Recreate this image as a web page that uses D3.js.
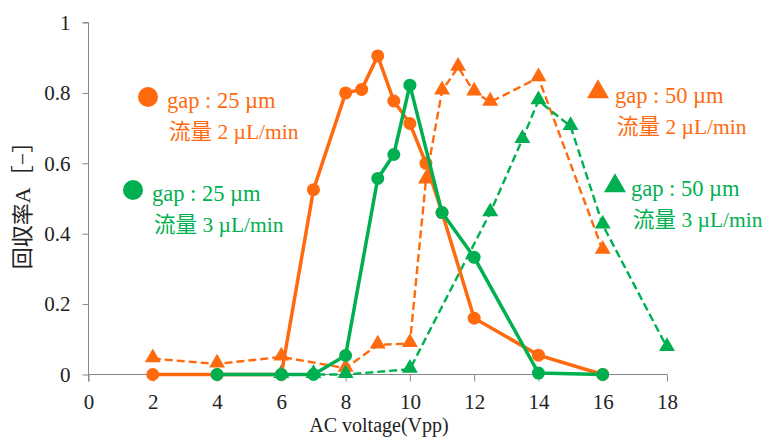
<!DOCTYPE html>
<html>
<head>
<meta charset="utf-8">
<script src="https://cdn.jsdelivr.net/npm/d3@7"></script>
<style>
  body { margin: 0; background: #fff; }
  text { font-family: "Liberation Serif", "Noto Sans CJK JP", serif; }
</style>
</head>
<body>
<div id="chart"></div>
<script>
// tick labels
const xTicks = [0, 2, 4, 6, 8, 10, 12, 14, 16, 18];
const yTicks = [0, 0.2, 0.4, 0.6, 0.8, 1];

// gap 25 um, 2 uL/min (orange circles, solid)
const orangeCircX = [2, 4, 6, 7, 8, 8.5, 9, 9.5, 10, 10.5, 11, 12, 14, 16];
const orangeCircY = [0, 0, 0, 0.525, 0.80, 0.81, 0.905, 0.777, 0.713, 0.60, 0.46, 0.16, 0.055, 0];

// gap 25 um, 3 uL/min (green circles, solid)
const greenCircX = [4, 6, 7, 8, 9, 9.5, 10, 11, 12, 14, 16];
const greenCircY = [0, 0, 0, 0.054, 0.557, 0.625, 0.822, 0.46, 0.333, 0.004, 0];

// gap 50 um, 2 uL/min (orange triangles, dashed)
const orangeTriX = [2, 4, 6, 8, 9, 10, 10.5, 11, 11.5, 12, 12.5, 14, 16];
const orangeTriY = [0.045, 0.03, 0.05, 0.018, 0.084, 0.088, 0.553, 0.806, 0.873, 0.803, 0.774, 0.843, 0.353];

// gap 50 um, 3 uL/min (green triangles, dashed)
const greenTriX = [6, 7, 8, 10, 12.5, 13.5, 14, 15, 16, 18];
const greenTriY = [0, 0, 0, 0.015, 0.46, 0.668, 0.778, 0.705, 0.425, 0.077];

const ORANGE = "#ff6a0f", GREEN = "#00b050";

const width = 775, height = 440;
const svg = d3.select("#chart").append("svg")
    .attr("width", width).attr("height", height);

const x = d3.scaleLinear().domain([0, 18]).range([88.5, 667]);
const y = d3.scaleLinear().domain([0, 1]).range([374.5, 22.5]);

// axes
svg.append("g")
   .attr("transform", `translate(0,${y(0)})`)
   .call(d3.axisBottom(x).tickValues(xTicks).tickSize(7).tickPadding(13).tickFormat(d3.format("d")))
   .call(g => g.select(".domain").attr("stroke", "#888").attr("d", `M${x(0)},7V0H${x(18)}`))
   .call(g => g.selectAll(".tick line").attr("stroke", "#888"))
   .call(g => g.selectAll("text").attr("font-size", 21).attr("fill", "#222")
                .attr("font-family", "Liberation Serif"));

svg.append("g")
   .attr("transform", `translate(${x(0)},0)`)
   .call(d3.axisLeft(y).tickValues(yTicks).tickSize(6).tickPadding(12).tickFormat(d => d === 0 || d === 1 ? d : d3.format(".1f")(d)))
   .call(g => g.select(".domain").attr("stroke", "#888").attr("d", `M-6,${y(1)}H0V${y(0)}`))
   .call(g => g.selectAll(".tick line").attr("stroke", "#888"))
   .call(g => g.selectAll("text").attr("font-size", 21).attr("fill", "#222")
                .attr("font-family", "Liberation Serif"));

// axis titles
svg.append("text")
   .attr("x", 379).attr("y", 432)
   .attr("text-anchor", "middle")
   .attr("font-size", 20).attr("fill", "#222")
   .text("AC voltage(Vpp)");

svg.append("text")
   .attr("transform", "translate(30,200) rotate(-90)")
   .attr("text-anchor", "middle")
   .attr("font-size", 22).attr("fill", "#222")
   .text("回収率A［−］");

const zip = (xs, ys) => xs.map((v, i) => [v, ys[i]]);
const line = d3.line().x(d => x(d[0])).y(d => y(d[1]));
const tri = d3.symbol().type(d3.symbolTriangle).size(110);

function drawSeries(pts, color, dashed, marker) {
    svg.append("path")
       .datum(pts)
       .attr("fill", "none")
       .attr("stroke", color)
       .attr("stroke-width", dashed ? 2.4 : 3.5)
       .attr("stroke-dasharray", dashed ? "8,4" : null)
       .attr("d", line);
    if (marker === "circle") {
        svg.selectAll(null).data(pts).enter().append("circle")
           .attr("cx", d => x(d[0])).attr("cy", d => y(d[1]))
           .attr("r", 6.5).attr("fill", color);
    } else {
        svg.selectAll(null).data(pts).enter().append("path")
           .attr("transform", d => `translate(${x(d[0])},${y(d[1]) - 1})`)
           .attr("d", tri).attr("fill", color);
    }
}

drawSeries(zip(orangeTriX, orangeTriY), ORANGE, true, "tri");
drawSeries(zip(greenTriX, greenTriY), GREEN, true, "tri");
drawSeries(zip(orangeCircX, orangeCircY), ORANGE, false, "circle");
drawSeries(zip(greenCircX, greenCircY), GREEN, false, "circle");

// legend labels
const legends = [
    {mx: 148, my: 97, tx: 167, ty: 108, color: ORANGE, marker: "circle", l1: "gap : 25 µm", l2: "流量 2 µL/min"},
    {mx: 133, my: 190, tx: 152, ty: 201, color: GREEN, marker: "circle", l1: "gap : 25 µm", l2: "流量 3 µL/min"},
    {mx: 598, my: 92, tx: 615, ty: 103, color: ORANGE, marker: "tri", l1: "gap : 50 µm", l2: "流量 2 µL/min"},
    {mx: 615, my: 186, tx: 631, ty: 196, color: GREEN, marker: "tri", l1: "gap : 50 µm", l2: "流量 3 µL/min"}
];

legends.forEach(l => {
    if (l.marker === "circle") {
        svg.append("circle").attr("cx", l.mx).attr("cy", l.my).attr("r", 10).attr("fill", l.color);
    } else {
        svg.append("path").attr("transform", `translate(${l.mx},${l.my})`)
           .attr("d", d3.symbol().type(d3.symbolTriangle).size(210)).attr("fill", l.color);
    }
    svg.append("text").attr("x", l.tx).attr("y", l.ty)
       .attr("font-size", 22.5).attr("fill", l.color).text(l.l1);
    svg.append("text").attr("x", l.tx + 2).attr("y", l.ty + 31)
       .attr("font-size", 21.5).attr("fill", l.color).text(l.l2);
});
</script>
</body>
</html>
